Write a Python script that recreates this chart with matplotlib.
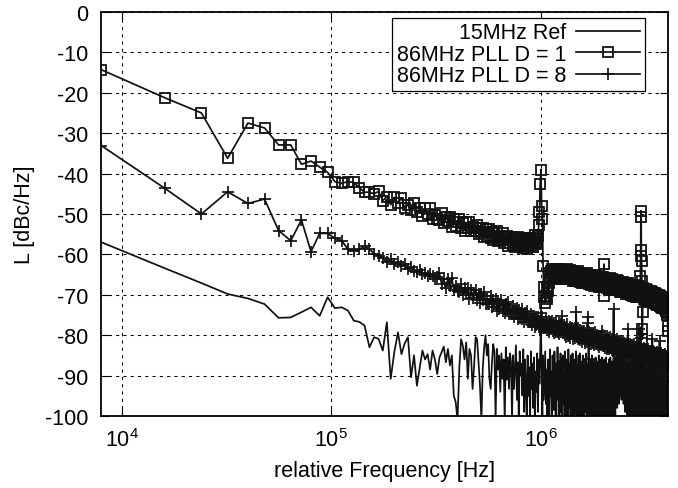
import numpy as np
import matplotlib
matplotlib.use("Agg")
import matplotlib.pyplot as plt

plt.rcParams['font.family'] = ['Liberation Sans', 'DejaVu Sans']
plt.rcParams['axes.unicode_minus'] = False

# Frequency grid: FFT bins spaced 8 kHz apart (bin n -> n * freq_step)
freq_step = 8e3

# Series values in dBc/Hz, one value per bin
ref_15mhz = [
    -57.0, -63.4, -67.1, -69.8, -70.9, -72.3, -75.7, -75.6, -74.3, -73.1,
    -75.2, -70.6, -73.3, -73.1, -73.9, -76.4, -76.7, -77.6, -83.0, -80.5,
    -80.9, -83.8, -76.8, -90.8, -84.0, -79.3, -84.7, -82.0, -80.5, -90.4,
    -85.0, -92.5, -88.0, -83.8, -86.0, -84.7, -88.5, -83.8, -86.0, -89.6,
    -85.5, -84.2, -82.8, -86.7, -83.4, -87.5, -85.0, -95.0, -96.5, -101.0,
    -88.0, -81.0, -82.6, -86.0, -81.8, -90.8, -83.4, -85.0, -93.3, -87.5,
    -80.5, -81.0, -86.7, -92.5, -101.0, -88.0, -83.0, -80.0, -85.0, -82.2,
    -90.8, -93.3, -86.7, -82.2, -84.0, -101.0, -83.4, -88.5, -85.0, -94.0,
    -84.5, -90.8, -86.0, -102.0, -83.0, -91.0, -85.5, -93.3, -84.5, -86.7,
    -101.0, -85.0, -93.3, -88.0, -82.5, -96.0, -86.7, -101.0, -84.0, -90.0,
    -87.0, -94.9, -83.5, -99.0, -86.0, -92.0, -102.0, -85.0, -95.0, -88.0,
    -101.0, -84.0, -93.3, -87.0, -98.0, -85.5, -103.0, -89.0, -94.0, -84.5,
    -99.0, -86.0, -92.0, -84.0, -76.0, -88.0, -101.0, -85.0, -96.0, -90.0,
    -84.0, -97.0, -88.5, -103.0, -86.0, -92.0, -105.0, -83.5, -95.0, -89.0,
    -101.0, -85.0, -93.0, -98.5, -84.0, -90.0, -104.0, -87.0, -96.0, -83.0,
    -91.0, -102.0, -86.5, -99.0, -84.5, -94.0, -106.0, -88.0, -85.0, -97.0,
    -89.5, -103.0, -84.0, -92.0, -100.0, -86.0, -95.5, -105.0, -83.5, -90.0,
    -98.0, -87.0, -104.0, -85.0, -93.0, -101.0, -84.5, -96.0, -89.0, -106.0,
    -86.0, -94.0, -99.5, -84.0, -91.0, -103.0, -87.5, -97.0, -85.0, -102.0,
    -90.0, -84.5, -98.0, -105.0, -86.5, -93.0, -100.0, -85.0, -95.0, -88.0,
    -104.0, -86.0, -92.0, -99.0, -84.5, -97.0, -106.0, -87.0, -90.5, -101.0,
    -85.5, -95.0, -103.0, -88.0, -86.0, -99.0, -93.0, -105.0, -85.0, -91.0,
    -100.0, -87.0, -96.0, -104.0, -86.0, -89.0, -102.0, -85.5, -94.0, -98.0,
    -86.5, -106.0, -91.0, -88.0, -101.0, -85.0, -97.0, -103.0, -87.5, -93.0,
    -99.0, -86.0, -105.0, -90.0, -85.5, -96.0, -102.0, -88.0, -94.0, -100.0,
    -86.0, -92.0, -104.0, -87.0, -98.0, -85.5, -101.0, -90.0, -95.0, -106.0,
    -87.0, -93.0, -99.0, -86.0, -103.0, -89.0, -96.0, -85.5, -100.0, -92.0,
    -88.0, -105.0, -86.5, -97.0, -91.0, -102.0, -86.0, -74.0, -94.0, -99.0,
    -87.0, -93.0, -100.0, -85.5, -90.0, -96.0, -86.0, -92.0, -98.0, -85.0,
    -89.0, -94.0, -84.5, -91.0, -97.0, -86.0, -88.5, -95.0, -85.0, -92.0,
    -90.0, -86.0, -96.0, -84.5, -93.0, -88.0, -95.0, -85.5, -91.0, -97.0,
    -86.0, -92.0, -88.0, -94.0, -85.0, -99.0, -89.0, -93.0, -86.5, -96.0,
    -90.0, -101.0, -87.0, -94.0, -88.0, -103.0, -86.0, -97.0, -91.0, -105.0,
    -87.0, -95.0, -100.0, -86.5, -93.0, -104.0, -88.0, -98.0, -86.0, -102.0,
    -91.0, -106.0, -87.5, -96.0, -99.0, -86.0, -94.0, -103.0, -88.0, -100.0,
    -87.0, -97.0, -105.0, -86.5, -92.0, -101.0, -89.0, -104.0, -87.0, -95.0,
    -99.0, -86.0, -103.0, -93.0, -88.0, -106.0, -87.0, -98.0, -91.0, -102.0,
    -86.5, -96.0, -104.0, -88.0, -78.0, -100.0, -87.0, -95.0, -105.0, -89.0,
    -93.0, -101.0, -87.0, -106.0, -90.0, -97.0, -88.0, -103.0, -92.0, -99.0,
    -87.5, -105.0, -94.0, -89.0, -101.0, -88.0, -98.0, -106.0, -90.0, -95.0,
    -103.0, -88.0, -99.0, -92.0, -106.0, -87.5, -96.0, -101.0, -89.0, -104.0,
    -91.0, -98.0, -88.0, -105.0, -94.0, -100.0, -88.5, -103.0, -90.0, -97.0,
    -106.0, -89.0, -101.0, -93.0, -88.0, -104.0, -96.0, -90.0, -102.0, -88.5,
    -99.0, -105.0, -91.0, -97.0, -89.0, -103.0, -94.0, -106.0, -88.0, -100.0,
    -92.0, -104.0, -89.5, -98.0, -101.0, -90.0, -106.0, -95.0, -88.5, -103.0,
    -97.0, -90.0, -105.0, -93.0, -100.0, -89.0, -104.0, -96.0, -91.0, -106.0,
    -89.0, -99.0, -102.0, -92.0, -105.0, -90.0, -97.0, -103.0, -88.5, -100.0,
    -94.0, -106.0, -90.0, -101.0, -96.0, -104.0, -89.0, -98.0, -105.0, -92.0,
    -100.0, -88.5, -103.0, -95.0, -106.0, -90.0, -99.0, -102.0, -89.0, -97.0,
    -105.0, -91.0, -101.0, -88.0, -98.0, -104.0, -92.0, -99.5, -89.0, -96.0,
    -103.0, -90.0, -98.0, -88.5, -99.0,
]

pll_d1 = [
    -14.3, -21.2, -25.0, -36.2, -27.5, -28.7, -32.9, -32.9, -37.7, -36.9,
    -38.4, -39.7, -42.0, -42.4, -42.0, -42.2, -43.5, -44.6, -44.6, -45.0,
    -44.4, -46.7, -45.7, -47.7, -45.9, -47.4, -46.0, -48.6, -47.7, -48.9,
    -47.3, -49.6, -48.5, -50.5, -48.6, -50.0, -48.6, -51.2, -50.2, -51.3,
    -51.4, -49.8, -52.2, -50.8, -51.8, -50.7, -53.2, -51.3, -52.9, -52.0,
    -51.3, -53.4, -52.3, -54.1, -52.1, -53.4, -51.9, -54.3, -53.2, -54.3,
    -54.3, -52.6, -55.0, -53.5, -54.5, -53.4, -55.8, -53.8, -55.4, -54.5,
    -53.8, -55.9, -54.7, -56.5, -54.5, -55.8, -54.2, -56.6, -55.5, -56.5,
    -56.5, -54.8, -57.2, -55.7, -56.5, -55.4, -57.8, -55.8, -57.3, -56.3,
    -55.6, -57.6, -56.4, -58.1, -56.1, -57.3, -55.7, -58.0, -56.9, -57.8,
    -57.8, -56.0, -58.3, -56.7, -57.5, -56.3, -58.6, -56.5, -58.0, -56.9,
    -56.0, -57.9, -56.6, -58.2, -56.0, -57.1, -55.3, -57.5, -56.2, -56.9,
    -55.5, -52.8, -49.5, -42.6, -39.0, -48.0, -51.2, -62.8, -70.6, -68.1,
    -72.0, -70.2, -71.0, -68.0, -69.0, -66.2, -67.0, -64.6, -65.8, -64.2,
    -63.7, -65.7, -64.4, -66.1, -64.0, -65.2, -63.5, -65.8, -64.6, -65.5,
    -65.4, -63.6, -65.9, -64.3, -65.1, -63.9, -66.2, -64.1, -65.6, -64.5,
    -63.8, -65.8, -64.5, -66.2, -64.1, -65.3, -63.6, -65.9, -64.7, -65.6,
    -65.7, -63.9, -66.2, -64.6, -65.4, -64.2, -66.5, -64.4, -65.9, -64.8,
    -64.3, -66.3, -65.0, -66.7, -64.6, -65.8, -64.1, -66.4, -65.2, -66.1,
    -66.3, -64.5, -66.8, -65.2, -66.0, -64.8, -67.1, -65.0, -66.5, -65.4,
    -64.8, -66.8, -65.5, -67.2, -65.1, -66.3, -64.6, -66.9, -65.7, -66.6,
    -66.8, -65.0, -67.3, -65.7, -66.5, -65.3, -67.6, -65.5, -67.0, -65.9,
    -65.3, -67.3, -66.0, -67.7, -65.6, -66.8, -65.1, -67.4, -66.2, -67.1,
    -67.2, -65.4, -67.7, -66.1, -66.9, -65.7, -68.0, -65.9, -67.4, -66.3,
    -65.7, -67.7, -66.4, -68.1, -66.0, -67.2, -65.5, -67.8, -66.6, -62.4,
    -70.2, -65.8, -68.1, -66.5, -67.3, -66.1, -68.4, -66.3, -67.8, -66.7,
    -66.1, -68.1, -66.8, -68.5, -66.4, -67.6, -65.9, -68.2, -67.0, -67.9,
    -68.0, -66.2, -68.5, -66.9, -67.7, -66.5, -68.8, -66.7, -68.2, -67.1,
    -66.5, -68.5, -67.2, -68.9, -66.8, -68.0, -66.3, -68.6, -67.4, -68.3,
    -68.4, -66.6, -68.9, -67.3, -68.1, -66.9, -69.2, -67.1, -68.6, -67.5,
    -67.0, -69.0, -67.7, -69.4, -67.3, -68.5, -66.8, -69.1, -67.9, -68.8,
    -68.9, -67.1, -69.4, -67.8, -68.6, -67.4, -69.7, -67.6, -69.1, -68.0,
    -67.4, -69.4, -68.1, -69.8, -67.7, -68.9, -67.2, -69.5, -68.3, -69.2,
    -69.3, -67.5, -69.8, -68.2, -69.0, -67.8, -70.1, -68.0, -69.5, -68.4,
    -67.8, -69.8, -68.5, -70.2, -68.1, -69.3, -67.6, -69.9, -68.7, -69.6,
    -69.7, -67.9, -70.2, -68.6, -69.4, -68.2, -70.5, -68.4, -69.9, -68.8,
    -68.2, -70.2, -68.9, -70.6, -68.5, -69.7, -68.0, -70.3, -69.1, -70.0,
    -68.4, -70.0, -65.3, -59.0, -49.2, -50.8, -60.4, -61.6, -66.5, -78.5,
    -81.0, -74.3, -70.0, -68.2, -70.0, -68.8, -71.1, -69.0, -70.5, -69.4,
    -68.8, -70.8, -69.5, -71.2, -69.1, -70.3, -68.6, -70.9, -69.7, -70.6,
    -70.7, -68.9, -71.2, -69.6, -70.4, -69.2, -71.5, -69.4, -70.9, -69.8,
    -69.2, -71.2, -69.9, -71.6, -69.5, -70.7, -69.0, -71.3, -70.1, -71.0,
    -71.1, -69.3, -71.6, -70.0, -70.8, -69.6, -71.9, -69.8, -71.3, -70.2,
    -69.7, -71.7, -70.4, -72.1, -70.0, -71.2, -69.5, -71.8, -70.6, -71.5,
    -71.7, -69.9, -72.2, -70.6, -71.4, -70.2, -72.5, -70.4, -71.9, -70.8,
    -70.2, -72.2, -70.9, -72.6, -70.5, -71.7, -70.0, -72.3, -71.1, -72.0,
    -72.2, -70.4, -72.7, -71.1, -71.9, -70.7, -73.0, -70.9, -72.4, -71.3,
    -70.8, -72.8, -71.5, -73.2, -71.1, -72.3, -70.6, -72.9, -71.7, -72.6,
    -72.8, -71.0, -73.3, -71.7, -72.5, -71.3, -73.6, -71.5, -73.0, -71.9,
    -71.4, -73.5, -72.3, -74.1, -72.3, -73.6, -72.0, -74.4, -73.3, -74.3,
    -74.2, -75.0, -77.6, -79.0, -90.0,
]

pll_d8 = [
    -33.1, -43.6, -50.0, -44.5, -47.4, -46.3, -54.1, -56.6, -51.5, -59.3,
    -54.8, -54.8, -56.0, -56.6, -58.7, -59.1, -58.7, -58.0, -58.7, -59.8,
    -60.3, -61.0, -62.0, -61.2, -62.4, -62.0, -62.8, -62.3, -63.6, -63.0,
    -64.0, -64.4, -63.8, -64.9, -64.5, -65.4, -64.8, -65.3, -66.2, -65.6,
    -64.7, -67.3, -66.1, -68.3, -66.1, -67.9, -65.9, -68.9, -67.8, -69.1,
    -69.2, -67.3, -70.1, -68.3, -69.5, -68.2, -71.1, -68.8, -70.8, -69.6,
    -68.7, -71.3, -69.9, -72.1, -69.8, -71.4, -69.4, -72.3, -71.1, -72.3,
    -72.3, -70.3, -73.1, -71.3, -72.4, -71.0, -73.9, -71.6, -73.5, -72.3,
    -71.4, -73.9, -72.5, -74.6, -72.3, -73.9, -71.8, -74.7, -73.5, -74.7,
    -74.7, -72.7, -75.4, -73.6, -74.7, -73.3, -76.1, -73.8, -75.8, -74.5,
    -73.6, -76.1, -74.7, -76.8, -74.5, -76.0, -73.9, -76.8, -75.5, -76.7,
    -76.7, -74.7, -77.4, -75.5, -76.6, -75.2, -78.0, -75.6, -77.5, -76.2,
    -75.6, -78.0, -76.5, -78.5, -74.5, -77.6, -75.4, -78.2, -76.8, -77.9,
    -78.3, -76.2, -78.8, -76.9, -77.9, -76.4, -79.1, -76.7, -78.5, -77.1,
    -76.6, -79.0, -77.5, -79.5, -77.1, -78.6, -76.4, -79.2, -77.8, -78.9,
    -79.2, -77.1, -79.7, -77.8, -78.8, -77.3, -75.2, -77.6, -79.4, -78.0,
    -77.5, -79.9, -78.4, -80.4, -78.0, -79.5, -77.3, -80.1, -78.7, -79.8,
    -80.1, -78.0, -80.6, -78.7, -79.7, -78.2, -80.9, -78.5, -80.3, -78.9,
    -78.3, -80.7, -79.2, -74.3, -78.8, -80.3, -78.1, -80.9, -79.5, -80.6,
    -80.8, -78.7, -81.3, -79.4, -80.4, -78.9, -81.6, -79.2, -81.0, -79.6,
    -79.0, -81.4, -79.9, -81.9, -79.5, -81.0, -78.8, -81.6, -75.6, -77.0,
    -86.0, -79.3, -81.9, -80.0, -81.0, -79.5, -82.2, -79.8, -81.6, -80.2,
    -79.5, -81.9, -80.4, -82.4, -80.0, -81.5, -79.3, -82.1, -80.7, -81.8,
    -82.0, -79.9, -82.5, -80.6, -81.6, -80.1, -82.8, -80.4, -82.2, -80.8,
    -80.1, -82.5, -81.0, -78.9, -80.6, -82.1, -79.9, -82.7, -81.3, -82.4,
    -82.6, -80.5, -83.1, -81.2, -82.2, -80.7, -83.4, -81.0, -82.8, -81.4,
    -80.6, -83.0, -81.5, -83.5, -81.1, -82.6, -80.4, -83.2, -81.8, -82.9,
    -83.1, -81.0, -83.6, -81.7, -82.7, -81.2, -83.9, -73.5, -83.3, -81.9,
    -81.1, -83.5, -82.0, -84.0, -81.6, -83.1, -80.9, -83.7, -82.3, -83.4,
    -83.6, -81.5, -84.1, -82.2, -83.2, -81.7, -84.4, -82.0, -83.8, -82.4,
    -81.6, -84.0, -82.5, -84.5, -82.1, -83.6, -81.4, -84.2, -82.8, -83.9,
    -84.0, -81.9, -84.5, -82.6, -83.6, -82.1, -84.8, -82.4, -84.2, -82.8,
    -82.0, -84.4, -82.9, -84.9, -78.5, -84.0, -81.8, -84.6, -83.2, -84.3,
    -84.4, -82.3, -84.9, -83.0, -84.0, -82.5, -85.2, -82.8, -84.6, -83.2,
    -82.5, -84.9, -83.4, -85.4, -83.0, -84.5, -82.3, -85.1, -83.7, -84.8,
    -84.9, -82.8, -85.4, -83.5, -84.5, -83.0, -85.7, -83.3, -85.1, -83.7,
    -82.9, -85.3, -83.8, -85.8, -83.4, -84.9, -82.7, -85.5, -78.5, -85.2,
    -85.3, -83.2, -85.8, -83.9, -80.8, -83.4, -86.1, -83.7, -85.5, -84.1,
    -83.3, -85.7, -84.2, -86.2, -83.8, -85.3, -83.1, -85.9, -84.5, -85.6,
    -85.7, -83.6, -86.2, -84.3, -85.3, -83.8, -86.5, -84.1, -85.9, -84.5,
    -83.6, -86.0, -84.5, -86.5, -84.1, -85.6, -83.4, -86.2, -84.8, -85.9,
    -86.0, -83.9, -86.5, -84.6, -85.6, -84.1, -86.8, -84.4, -86.2, -84.8,
    -84.0, -86.4, -84.9, -86.9, -81.0, -86.0, -83.8, -86.6, -85.2, -86.3,
    -86.3, -84.2, -86.8, -84.9, -85.9, -84.4, -87.1, -84.7, -86.5, -85.1,
    -84.3, -86.7, -85.2, -87.2, -84.8, -86.3, -84.1, -86.9, -85.5, -86.6,
    -86.6, -84.5, -87.1, -85.2, -86.2, -84.7, -87.4, -85.0, -86.8, -81.5,
    -84.6, -87.0, -85.5, -87.5, -85.1, -86.6, -84.4, -87.2, -85.8, -86.9,
    -86.9, -84.8, -87.4, -85.5, -86.5, -85.0, -87.7, -85.3, -87.1, -85.7,
    -84.9, -87.3, -85.8, -87.8, -85.4, -86.9, -84.7, -87.5, -86.1, -87.2,
    -87.2, -85.1, -87.7, -85.8, -86.8, -85.3, -88.0, -85.6, -87.4, -86.0,
    -85.2, -87.4, -85.6, -87.9, -86.3,
]

labels = ['15MHz Ref', '86MHz PLL D = 1', '86MHz PLL D = 8']
x_ticks = [1e4, 1e5, 1e6]
y_ticks = [0, -10, -20, -30, -40, -50, -60, -70, -80, -90, -100]


def freqs(vals):
    return freq_step * np.arange(1, len(vals) + 1)


fs = 15.5
fig = plt.figure(figsize=(6.78, 4.89), dpi=100)
ax = fig.add_axes([101 / 678, 1 - 417 / 489, 567 / 678, 404 / 489])

lw = 1.25
ink = '#111111'
ax.plot(freqs(ref_15mhz), ref_15mhz, color=ink, lw=lw, label=labels[0])
ax.plot(freqs(pll_d1), pll_d1, color=ink, lw=lw, marker='s', ms=7.8,
        mfc='none', mec=ink, mew=1.3, label=labels[1])
ax.plot(freqs(pll_d8), pll_d8, color=ink, lw=lw, marker='+', ms=8,
        mec=ink, mew=1.25, label=labels[2])

ax.set_xscale('log')
ax.set_xlim(7.96e3, 4.04e6)
ax.set_ylim(-100, 0)
ax.set_xticks(x_ticks)
ax.xaxis.set_minor_locator(matplotlib.ticker.NullLocator())
ax.set_yticks(y_ticks)
ax.set_yticklabels([str(v) for v in y_ticks])

ax.grid(True, which='major', color='black', linestyle=(0, (3, 4)), linewidth=0.75)
ax.tick_params(direction='in', top=True, right=True, length=6, width=0.8,
               labelsize=fs, pad=9)
for s in ax.spines.values():
    s.set_linewidth(1.3)

ax.set_xlabel('relative Frequency [Hz]', fontsize=fs, labelpad=6)
ax.set_ylabel('L [dBc/Hz]', fontsize=fs, labelpad=7)

leg = ax.legend(loc='upper right', bbox_to_anchor=(0.959, 0.985), borderaxespad=0,
                markerfirst=False, handlelength=3.0, numpoints=1, fontsize=fs,
                fancybox=False, framealpha=1, edgecolor='black', labelspacing=0.02,
                borderpad=0.2, handletextpad=0.45)
leg.get_frame().set_linewidth(0.9)
for t in leg.get_texts():
    t.set_ha('right')
leg._legend_box.align = 'right'

fig.savefig('out.png', dpi=100)
